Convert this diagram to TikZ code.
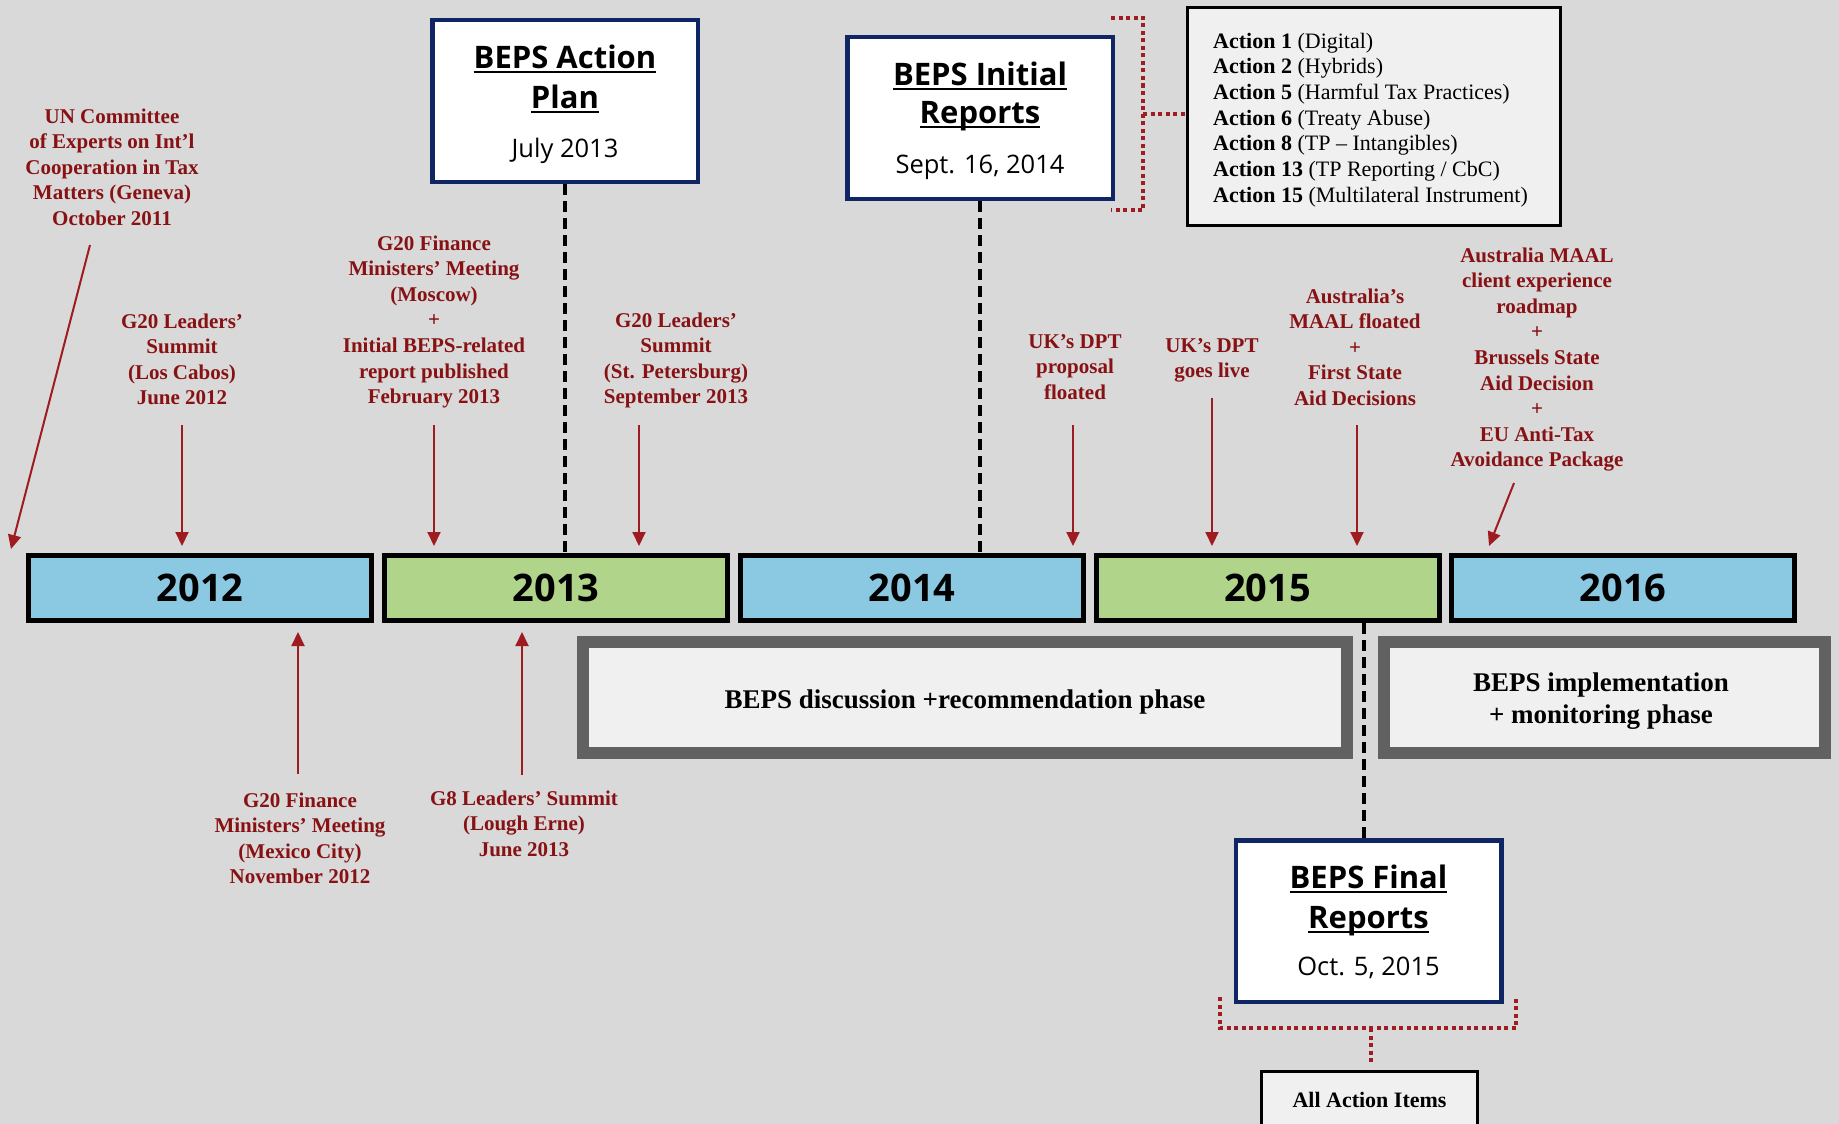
\documentclass[tikz,border=0pt]{standalone}
\usepackage{fontspec}
\setmainfont{Liberation Serif}
\newfontfamily\gillf{Open Sans}
\usetikzlibrary{arrows.meta}
\definecolor{bgc}{RGB}{217,217,217}
\definecolor{barblue}{RGB}{139,201,227}
\definecolor{bargreen}{RGB}{176,212,138}
\definecolor{navy}{RGB}{16,37,99}
\definecolor{phgray}{RGB}{97,97,97}
\definecolor{lightf}{RGB}{240,240,240}
\definecolor{textred}{RGB}{135,17,19}
\definecolor{arrowred}{RGB}{158,27,32}
\definecolor{dotred}{RGB}{160,28,35}
\newcommand\myul[1]{\setbox0\hbox{#1}\rlap{\rule[-5pt]{\wd0}{2pt}}\box0}
\begin{document}
\begin{tikzpicture}[x=1pt,y=-1pt,
  yearbar/.style={draw=black, line width=5pt, minimum width=343pt, minimum height=65pt, inner sep=0pt, font=\gillf\bfseries\fontsize{38}{42}\selectfont},
  navybox/.style={draw=navy, line width=4.5pt, fill=white, minimum width=265.5pt, minimum height=161.5pt, inner sep=0pt},
  ttl/.style={anchor=base, inner sep=0pt, font=\gillf\bfseries\fontsize{31}{35}\selectfont},
  dte/.style={anchor=base, inner sep=0pt, font=\gillf\fontsize{25.5}{30}\selectfont},
  phasebox/.style={draw=phgray, line width=12pt, fill=lightf, minimum height=111pt, inner sep=0pt},
  phasetxt/.style={inner sep=0pt, align=center, font=\bfseries\fontsize{27}{32}\selectfont},
  redlbl/.style={text=textred, font=\bfseries\fontsize{21}{25.6}\selectfont, align=center, anchor=north, inner sep=0pt},
  redarrow/.style={draw=arrowred, line width=2pt, -{Triangle[width=13pt,length=14pt]}},
  blkdash/.style={draw=black, line width=3.2pt, dash pattern=on 11pt off 6pt},
  reddot/.style={draw=dotred, line width=4pt, dash pattern=on 4pt off 3.5pt},
  listbox/.style={draw=black, line width=3pt, fill=lightf, inner sep=0pt}
]
\clip (0,0) rectangle (1839,1124);
\fill[bgc] (0,0) rectangle (1839,1124);

% year bars
\node[yearbar, fill=barblue] (y2012) at (200,588) {2012};
\node[yearbar, fill=bargreen] (y2013) at (556,588) {2013};
\node[yearbar, fill=barblue] (y2014) at (912,588) {2014};
\node[yearbar, fill=bargreen] (y2015) at (1267.5,588) {2015};
\node[yearbar, fill=barblue] (y2016) at (1623,588) {2016};

% milestone boxes
\node[navybox] (ap) at (565,101) {};
\node[ttl] (apt1) at (565,68) {\myul{BEPS Action}};
\node[ttl] (apt2) at (565,108) {\myul{Plan}};
\node[dte] (apd) at (565,157) {July 2013};

\node[navybox] (ir) at (980,118) {};
\node[ttl] (irt1) at (980,85) {\myul{BEPS Initial}};
\node[ttl] (irt2) at (980,123) {\myul{Reports}};
\node[dte] (ird) at (980,173) {Sept. 16, 2014};

\node[navybox] (fr) at (1368.5,921) {};
\node[ttl] (frt1) at (1368.5,888) {\myul{BEPS Final}};
\node[ttl] (frt2) at (1368.5,928) {\myul{Reports}};
\node[dte] (frd) at (1368.5,975) {Oct. 5, 2015};

% dashed connectors
\draw[blkdash] (ap.south) -- (ap.south |- y2013.north);
\draw[blkdash] (ir.south) -- (ir.south |- y2014.north);
\coordinate (d3) at (1364,0);
\draw[blkdash] (d3 |- y2015.south) -- (d3 |- fr.north);

% action list
\node[listbox, minimum width=373pt, minimum height=218pt] (al) at (1374,116.5) {};
\node[anchor=north west, inner sep=0pt, align=left, font=\fontsize{22}{25.7}\selectfont] (alt) at (1213,30) {\strut\textbf{Action 1} (Digital)\\
\textbf{Action 2} (Hybrids)\\
\textbf{Action 5} (Harmful Tax Practices)\\
\textbf{Action 6} (Treaty Abuse)\\
\textbf{Action 8} (TP – Intangibles)\\
\textbf{Action 13} (TP Reporting / CbC)\\
\textbf{Action 15} (Multilateral Instrument)};

\draw[reddot] (1111,18) -- (1143,18) -- (1143,210) -- (1111,210);
\coordinate (bm) at (1143,114);
\draw[reddot] (bm) -- (bm -| al.west);

% all action items
\node[listbox, minimum width=216pt, minimum height=67pt] (aai) at (1369.5,1105) {};
\node[anchor=base, inner sep=0pt, font=\bfseries\fontsize{22}{26}\selectfont] (aait) at (1369.5,1107) {All Action Items};
\draw[reddot] (1220,997) -- (1220,1028) -- (1516,1028) -- (1516,997);
\coordinate (bm2) at (1371,1028);
\draw[reddot, shorten >=7pt] (bm2) -- (bm2 |- aai.north);

% phase boxes
\node[phasebox, minimum width=764pt] (ph1) at (965,697.5) {};
\node[phasetxt, anchor=base] (ph1t) at (965,708) {BEPS discussion +recommendation phase};
\node[phasebox, minimum width=441pt] (ph2) at (1604.5,697.5) {};
\node[phasetxt, anchor=north] (ph2t) at (1601,668.6) {\strut BEPS implementation\\+ monitoring phase};

% red labels
\node[redlbl] (un) at (112,105) {\strut UN Committee\\of Experts on Int’l\\Cooperation in Tax\\Matters (Geneva)\\October 2011};
\node[redlbl] (lc) at (182,310) {\strut G20 Leaders’\\Summit\\(Los Cabos)\\June 2012};
\node[redlbl] (mo) at (434,232) {\strut G20 Finance\\Ministers’ Meeting\\(Moscow)\\+\\Initial BEPS-related\\report published\\February 2013};
\node[redlbl] (sp) at (676,309) {\strut G20 Leaders’\\Summit\\(St. Petersburg)\\September 2013};
\node[redlbl] (ukp) at (1075,330) {\strut UK’s DPT\\proposal\\floated};
\node[redlbl] (ukl) at (1212,334) {\strut UK’s DPT\\goes live};
\node[redlbl] (au1) at (1355,285) {\strut Australia’s\\MAAL floated\\+\\First State\\Aid Decisions};
\node[redlbl] (au2) at (1537,244) {\strut Australia MAAL\\client experience\\roadmap\\+\\Brussels State\\Aid Decision\\+\\EU Anti-Tax\\Avoidance Package};
\node[redlbl] (mx) at (300,789) {\strut G20 Finance\\Ministers’ Meeting\\(Mexico City)\\November 2012};
\node[redlbl] (g8) at (524,787) {\strut G8 Leaders’ Summit\\(Lough Erne)\\June 2013};

% red arrows
\coordinate (s1) at (90,245); \coordinate (t1) at (11,549);
\draw[redarrow] (s1) -- (t1);
\coordinate (s2) at (182,425);
\draw[redarrow, shorten >=7pt] (s2) -- (s2 |- y2012.north);
\coordinate (s3) at (434,425);
\draw[redarrow, shorten >=7pt] (s3) -- (s3 |- y2013.north);
\coordinate (s4) at (639,425);
\draw[redarrow, shorten >=7pt] (s4) -- (s4 |- y2013.north);
\coordinate (s5) at (1073,425);
\draw[redarrow, shorten >=7pt] (s5) -- (s5 |- y2014.north);
\coordinate (s6) at (1212,398);
\draw[redarrow, shorten >=7pt] (s6) -- (s6 |- y2015.north);
\coordinate (s7) at (1357,425);
\draw[redarrow, shorten >=7pt] (s7) -- (s7 |- y2015.north);
\coordinate (s8) at (1514,483); \coordinate (t8) at (1489,546);
\draw[redarrow] (s8) -- (t8);
\coordinate (s9) at (298,774);
\draw[redarrow, shorten >=9pt] (s9) -- (s9 |- y2012.south);
\coordinate (s10) at (522,775);
\draw[redarrow, shorten >=9pt] (s10) -- (s10 |- y2013.south);
\end{tikzpicture}
\end{document}
